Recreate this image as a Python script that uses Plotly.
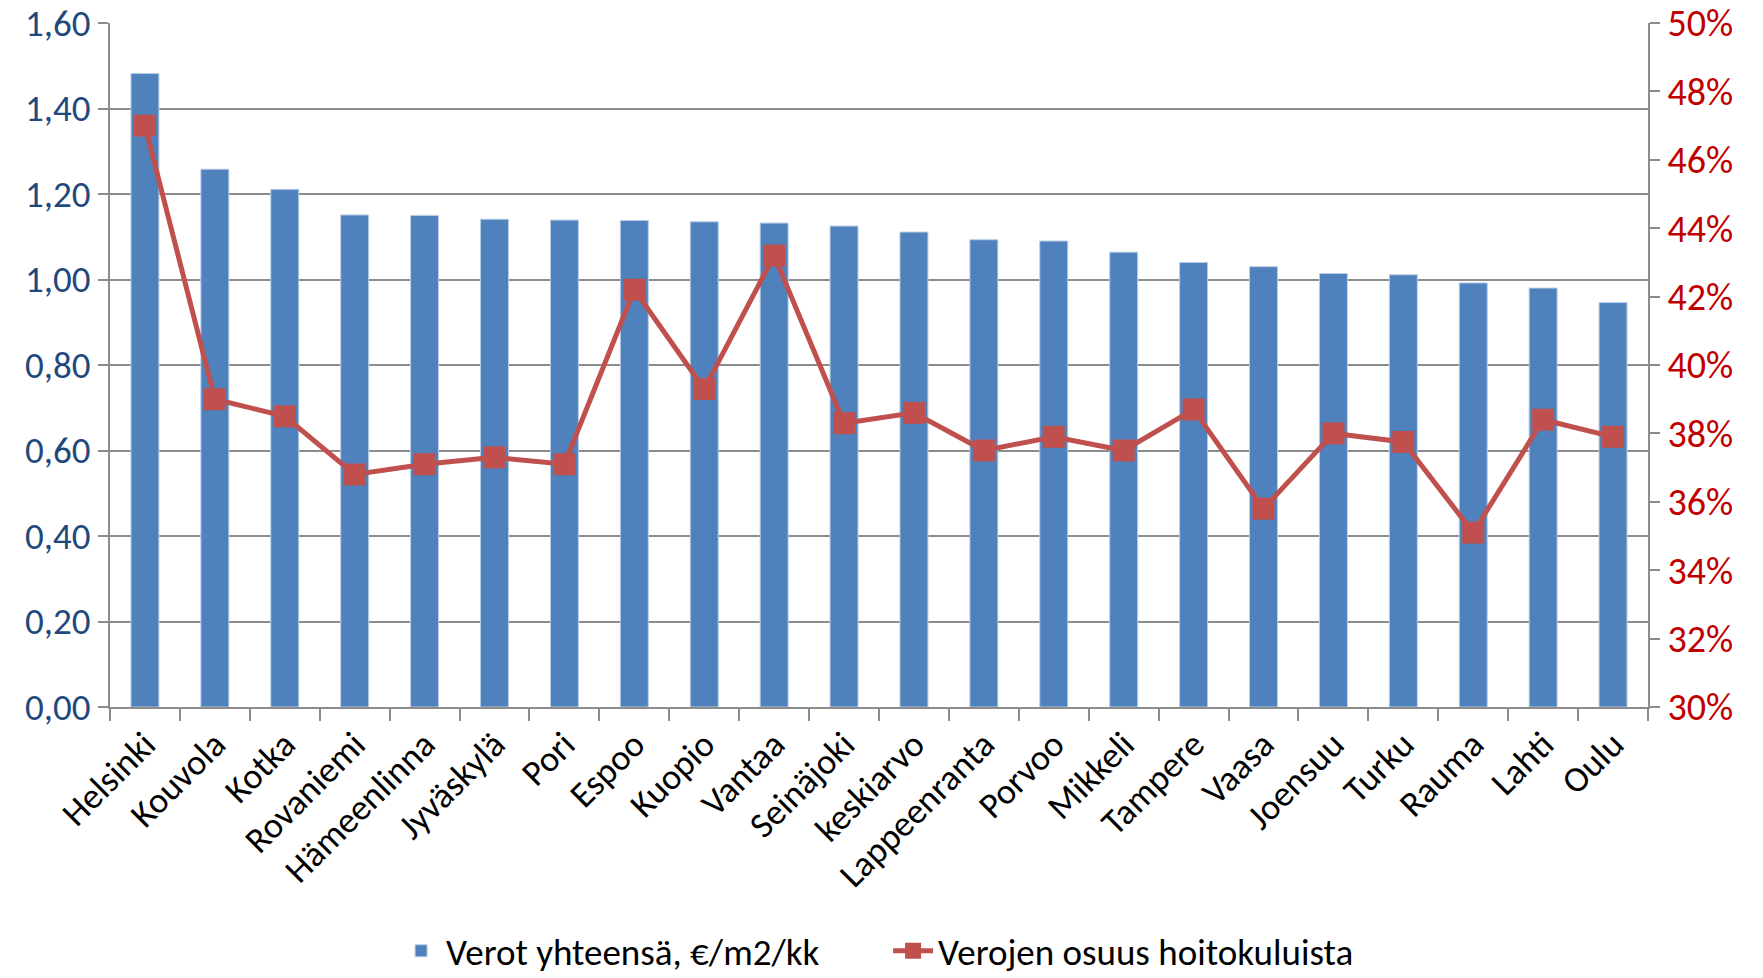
import plotly.graph_objects as go

categories = ["Helsinki", "Kouvola", "Kotka", "Rovaniemi", "Hämeenlinna", "Jyväskylä", "Pori",
              "Espoo", "Kuopio", "Vantaa", "Seinäjoki", "keskiarvo", "Lappeenranta", "Porvoo",
              "Mikkeli", "Tampere", "Vaasa", "Joensuu", "Turku", "Rauma", "Lahti", "Oulu"]
taxes = [1.482, 1.258, 1.211, 1.151, 1.150, 1.141, 1.139, 1.138, 1.135, 1.132, 1.125,
         1.111, 1.093, 1.090, 1.064, 1.040, 1.030, 1.014, 1.011, 0.992, 0.980, 0.946]
share = [0.470, 0.390, 0.385, 0.368, 0.371, 0.373, 0.371, 0.422, 0.393, 0.432, 0.383,
         0.386, 0.375, 0.379, 0.375, 0.387, 0.358, 0.380, 0.3775, 0.351, 0.384, 0.379]

FONT = "Carlito, Lato, sans-serif"
GRID = "#8c8c8c"

fig = go.Figure()
fig.add_trace(go.Bar(x=categories, y=taxes, name="Verot yhteensä, €/m2/kk",
                     marker=dict(color="#4F81BD", line=dict(color="#B9CDE5", width=1)),
                     yaxis="y"))
fig.add_trace(go.Scatter(x=categories, y=share, name="Verojen osuus hoitokuluista",
                         mode="lines+markers", yaxis="y2",
                         line=dict(color="#C0504D", width=5),
                         marker=dict(symbol="square", size=22, color="#C0504D")))

fig.update_layout(
    width=1763, height=978,
    margin=dict(l=110, r=115, t=23, b=271, autoexpand=False),
    paper_bgcolor="white", plot_bgcolor="white",
    separators=", ",
    bargap=0.6,
    font=dict(family=FONT, size=36, color="black"),
    showlegend=True,
    legend=dict(orientation="h", x=0.186, xanchor="left", y=-0.357, yanchor="middle",
                font=dict(family=FONT, size=37, color="black"), itemwidth=40,
                entrywidth=437, entrywidthmode="pixels", tracegroupgap=0,
                traceorder="normal"),
    xaxis=dict(range=[-0.5, len(categories) - 0.5], tickangle=-45, showline=True,
               linecolor=GRID, linewidth=2, automargin=False,
               ticks="outside", tickson="boundaries", ticklen=12, tickcolor=GRID, tickwidth=2,
               tickfont=dict(family=FONT, size=36, color="black"), showgrid=False),
    yaxis=dict(range=[0, 1.6], dtick=0.2, tickformat=".2f", showgrid=True, gridcolor=GRID,
               gridwidth=2, showline=True, linecolor=GRID, linewidth=2, ticks="outside",
               ticklen=10, tickcolor=GRID, tickwidth=2, zeroline=False, automargin=False,
               tickfont=dict(family=FONT, size=37, color="#1F497D")),
    yaxis2=dict(range=[0.30, 0.50], dtick=0.02, tickformat=".0%", overlaying="y", side="right",
                showgrid=False, showline=True, linecolor=GRID, linewidth=2, ticks="outside",
                ticklen=10, tickcolor=GRID, tickwidth=2, zeroline=False, automargin=False,
                tickfont=dict(family=FONT, size=38, color="#C00000")),
)

fig.write_html("out.html", config={"displayModeBar": False},
               post_script="document.body.style.margin='0';document.body.style.overflow='hidden';")
